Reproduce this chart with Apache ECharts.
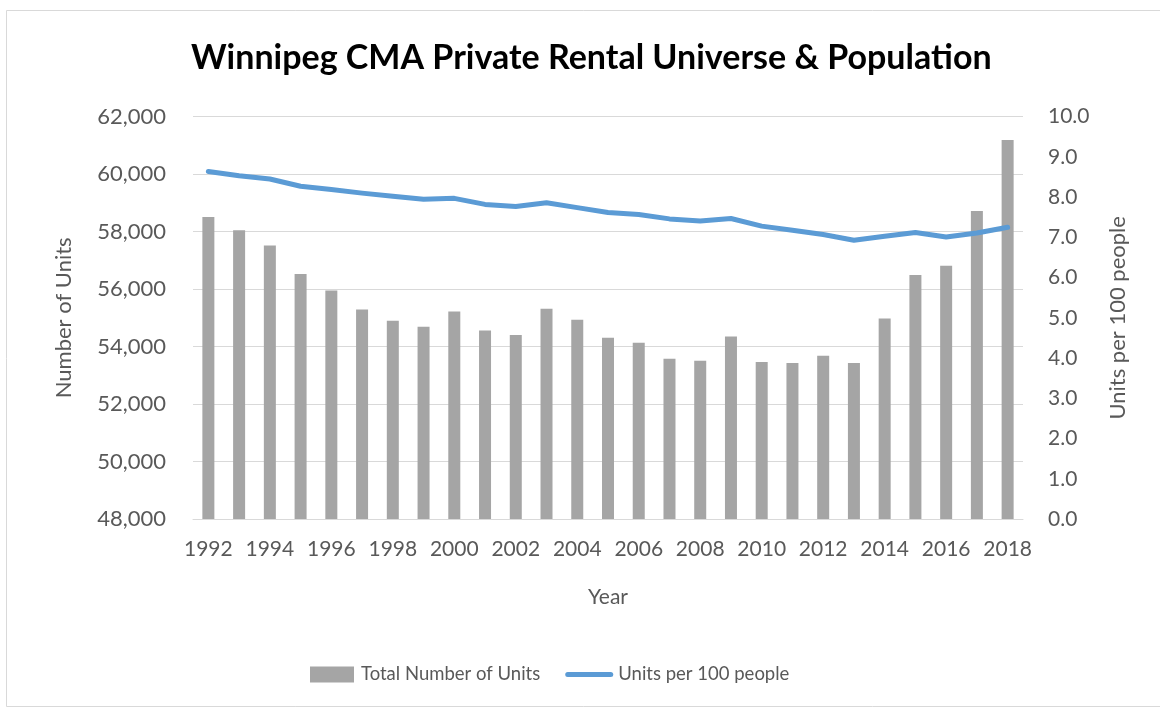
<!DOCTYPE html>
<html>
<head>
<meta charset="utf-8">
<script src="https://cdn.jsdelivr.net/npm/echarts@6/dist/echarts.min.js"></script>
<style>
  html, body { margin: 0; padding: 0; background: #ffffff; }
  #chart { width: 1160px; height: 708px; }
</style>
</head>
<body>
<div id="chart"></div>
<script>
const years = ['1992','1993','1994','1995','1996','1997','1998','1999','2000','2001','2002','2003','2004','2005','2006','2007','2008','2009','2010','2011','2012','2013','2014','2015','2016','2017','2018'];
const totalUnits = [58510, 58050, 57515, 56530, 55950, 55290, 54895, 54690, 55220, 54560, 54400, 55320, 54930, 54305, 54130, 53575, 53505, 54350, 53460, 53425, 53680, 53425, 54975, 56495, 56810, 58720, 61190];
const unitsPer100 = [8.64, 8.53, 8.45, 8.27, 8.19, 8.10, 8.02, 7.95, 7.97, 7.82, 7.77, 7.86, 7.74, 7.62, 7.57, 7.46, 7.41, 7.47, 7.28, 7.18, 7.07, 6.93, 7.03, 7.12, 7.01, 7.11, 7.25];
const leftTicks = { min: 48000, max: 62000, interval: 2000 };
const rightTicks = { min: 0, max: 10, interval: 1 };

const FONT = 'Lato';
const TXT = '#595959';
const chart = echarts.init(document.getElementById('chart'), null, { renderer: 'canvas' });
chart.setOption({
  backgroundColor: '#ffffff',
  animation: false,
  textStyle: { fontFamily: FONT, color: TXT },
  graphic: [{
    type: 'rect', left: 4, top: 8, shape: { width: 1170, height: 696 },
    style: { fill: 'none', stroke: '#d9d9d9', lineWidth: 1 }, silent: true, z: -1
  }],
  title: {
    text: 'Winnipeg CMA Private Rental Universe & Population',
    left: 186, top: 36,
    textStyle: { fontFamily: FONT, fontWeight: 'bold', fontSize: 34, color: '#000000' }
  },
  legend: {
    top: 660, left: 305,
    itemGap: 25, itemWidth: 48, itemHeight: 16,
    symbolKeepAspect: true,
    textStyle: { fontFamily: FONT, fontSize: 18.5, color: TXT },
    data: [
      { name: 'Total Number of Units', icon: 'path://M0,0 L44,0 L44,16 L0,16 Z', itemStyle: { color: '#a5a5a5' } },
      { name: 'Units per 100 people', icon: 'path://M2.5,0 L45.5,0 A2.5,2.5 0 0 1 45.5,5 L2.5,5 A2.5,2.5 0 0 1 2.5,0 Z', itemStyle: { color: '#5b9bd5' }, lineStyle: { width: 0, opacity: 0 } }
    ]
  },
  grid: { left: 193, right: 137, top: 116.7, bottom: 189, containLabel: false },
  xAxis: {
    type: 'category', data: years,
    name: 'Year', nameLocation: 'middle', nameGap: 68,
    nameTextStyle: { fontFamily: FONT, fontSize: 21, color: TXT },
    axisLine: { lineStyle: { color: '#d9d9d9', width: 1 } },
    axisTick: { show: false },
    axisLabel: { interval: 1, fontFamily: FONT, fontSize: 21, color: TXT, margin: 20 }
  },
  yAxis: [{
    type: 'value', min: leftTicks.min, max: leftTicks.max, interval: leftTicks.interval,
    name: 'Number of Units', nameLocation: 'middle', nameRotate: 90, nameGap: 118,
    nameTextStyle: { fontFamily: FONT, fontSize: 22, color: TXT },
    axisLine: { show: false }, axisTick: { show: false },
    splitLine: { lineStyle: { color: '#d9d9d9', width: 1 } },
    axisLabel: { fontFamily: FONT, fontSize: 22, color: TXT, margin: 27,
      formatter: v => v.toLocaleString('en-US') }
  }, {
    type: 'value', min: rightTicks.min, max: rightTicks.max, interval: rightTicks.interval,
    name: 'Units per 100 people', nameLocation: 'middle', nameRotate: 90, nameGap: 84,
    nameTextStyle: { fontFamily: FONT, fontSize: 22, color: TXT },
    axisLine: { show: false }, axisTick: { show: false },
    splitLine: { show: false },
    axisLabel: { fontFamily: FONT, fontSize: 21, color: TXT, margin: 25,
      formatter: v => v.toFixed(1) }
  }],
  series: [{
    name: 'Total Number of Units', type: 'bar', yAxisIndex: 0,
    data: totalUnits, barWidth: 12,
    itemStyle: { color: '#a5a5a5' }
  }, {
    name: 'Units per 100 people', type: 'line', yAxisIndex: 1,
    data: unitsPer100, showSymbol: false, symbol: 'none',
    lineStyle: { color: '#5b9bd5', width: 5, cap: 'round', join: 'round' },
    itemStyle: { color: '#5b9bd5' }
  }]
});
</script>
</body>
</html>
